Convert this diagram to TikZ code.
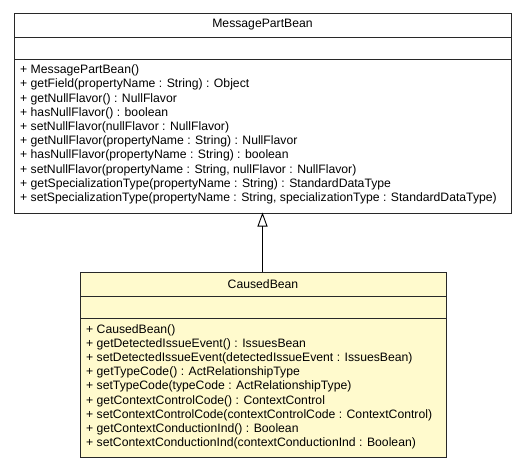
\documentclass[tikz,border=0pt]{standalone}
\usepackage{fontspec}
\setmainfont{Liberation Sans}
\usetikzlibrary{arrows.meta}
\definecolor{beanfill}{RGB}{255,250,205}
\definecolor{edgegray}{RGB}{40,40,40}
\tikzset{
  classbox/.style={draw=edgegray, line width=1pt, anchor=north west, inner sep=0pt},
  sep/.style={draw=edgegray, line width=1pt},
  member/.style={anchor=west, inner sep=0pt, font=\fontsize{12.2}{14}\selectfont},
  ctitle/.style={anchor=center, inner sep=0pt, font=\fontsize{12.2}{14}\selectfont},
  inherit/.style={draw=black, line width=0.9pt, -{Triangle[open, length=14pt, width=10pt, line width=0.9pt]}}
}
\begin{document}
\begin{tikzpicture}[x=1pt, y=-1pt]
\useasboundingbox (0,0) rectangle (525,469);
% top class
\node[classbox, fill=white, minimum width=497pt, minimum height=199.5pt] (mpb) at (14,13) {};
\draw[sep] (14,37) -- (511,37);
\draw[sep] (14,59.5) -- (511,59.5);
\node[ctitle] (mpbt) at (262.5,25) {MessagePartBean};
\node[member] (m1) at (20,70.5) {+ MessagePartBean()};
\node[member] (m2) at (20,84.7) {+ getField(propertyName : String) : Object};
\node[member] (m3) at (20,98.9) {+ getNullFlavor() : NullFlavor};
\node[member] (m4) at (20,113.1) {+ hasNullFlavor() : boolean};
\node[member] (m5) at (20,127.3) {+ setNullFlavor(nullFlavor : NullFlavor)};
\node[member] (m6) at (20,141.5) {+ getNullFlavor(propertyName : String) : NullFlavor};
\node[member] (m7) at (20,155.7) {+ hasNullFlavor(propertyName : String) : boolean};
\node[member] (m8) at (20,169.9) {+ setNullFlavor(propertyName : String, nullFlavor : NullFlavor)};
\node[member] (m9) at (20,184.1) {+ getSpecializationType(propertyName : String) : StandardDataType};
\node[member] (m10) at (20,198.3) {+ setSpecializationType(propertyName : String, specializationType : StandardDataType)};
% bottom class
\node[classbox, fill=beanfill, minimum width=366pt, minimum height=185pt] (cb) at (80,272) {};
\draw[sep] (80,296) -- (446,296);
\draw[sep] (80,318.5) -- (446,318.5);
\node[ctitle] (cbt) at (263,284) {CausedBean};
\node[member] (c1) at (86,330) {+ CausedBean()};
\node[member] (c2) at (86,344.2) {+ getDetectedIssueEvent() : IssuesBean};
\node[member] (c3) at (86,358.4) {+ setDetectedIssueEvent(detectedIssueEvent : IssuesBean)};
\node[member] (c4) at (86,372.6) {+ getTypeCode() : ActRelationshipType};
\node[member] (c5) at (86,386.8) {+ setTypeCode(typeCode : ActRelationshipType)};
\node[member] (c6) at (86,401) {+ getContextControlCode() : ContextControl};
\node[member] (c7) at (86,415.2) {+ setContextControlCode(contextControlCode : ContextControl)};
\node[member] (c8) at (86,429.4) {+ getContextConductionInd() : Boolean};
\node[member] (c9) at (86,443.6) {+ setContextConductionInd(contextConductionInd : Boolean)};
% generalization
\coordinate (up) at (262.5,212.5);
\coordinate (dn) at (262.5,272);
\draw[inherit] (dn) -- (up);
\end{tikzpicture}
\end{document}
